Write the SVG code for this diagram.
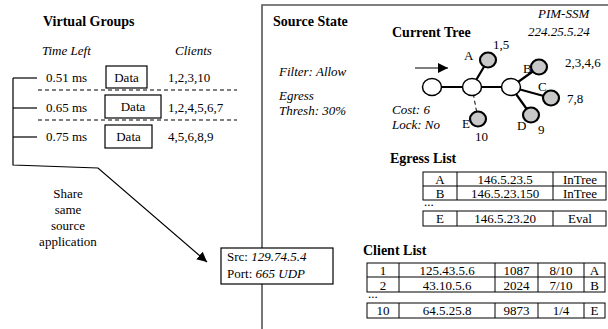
<svg xmlns="http://www.w3.org/2000/svg" width="608" height="329" viewBox="0 0 608 329" font-family="'Liberation Serif', Tinos, 'DejaVu Serif', serif">
  <style>
    text { font-family: 'Liberation Serif', Tinos, 'DejaVu Serif', serif; font-size: 13px; fill: #000; }
    .h { font-weight: bold; font-size: 14px; }
    .i { font-style: italic; }
    .m { text-anchor: middle; }
    .ln { stroke: #000; stroke-width: 1.2; fill: none; }
    .dash { stroke: #000; stroke-width: 1.2; stroke-dasharray: 4 3; fill: none; }
    .box { stroke: #000; stroke-width: 1.2; fill: #fff; }
    .cell { stroke: #000; stroke-width: 1; fill: none; }
    .edge { stroke: #000; stroke-width: 2.2; fill: none; }
    .hub { stroke: #000; stroke-width: 1.5; fill: #fff; }
    .leaf { stroke: #000; stroke-width: 2.2; fill: #c8c8c8; }
  </style>
  <defs>
    <marker id="ah" viewBox="0 0 10 10" refX="10" refY="5" markerWidth="10" markerHeight="10" markerUnits="userSpaceOnUse" orient="auto">
      <path d="M0,0 L10,5 L0,10 z" fill="#000"/>
    </marker>
  </defs>

  <rect width="608" height="329" fill="#fff"/>

  <!-- Virtual groups panel -->
  <g id="virtual-groups">
    <text class="h" x="43" y="26">Virtual Groups</text>
    <text class="i" x="42" y="55">Time Left</text>
    <text class="i" x="175" y="55">Clients</text>

    <text x="46" y="82">0.51 ms</text>
    <rect class="box" x="106" y="66" width="41" height="22"/>
    <text class="m" x="126.5" y="82">Data</text>
    <text x="168" y="82">1,2,3,10</text>

    <line class="dash" x1="38" y1="90" x2="237" y2="90"/>

    <text x="46" y="112">0.65 ms</text>
    <rect class="box" x="105" y="95" width="56" height="23"/>
    <text class="m" x="133" y="111">Data</text>
    <text x="168" y="112">1,2,4,5,6,7</text>

    <line class="dash" x1="38" y1="120" x2="237" y2="120"/>

    <text x="46" y="141">0.75 ms</text>
    <rect class="box" x="105" y="125" width="47" height="23"/>
    <text class="m" x="128.5" y="141">Data</text>
    <text x="168" y="141">4,5,6,8,9</text>

    <text class="m" x="68" y="198">Share</text>
    <text class="m" x="68" y="214">same</text>
    <text class="m" x="68" y="230">source</text>
    <text class="m" x="68" y="246">application</text>
  </g>

  <!-- Connectors -->
  <g id="connectors">
    <line class="ln" x1="13" y1="78" x2="37" y2="78"/>
    <line class="ln" x1="13" y1="108" x2="37" y2="108"/>
    <line class="ln" x1="13" y1="137" x2="37" y2="137"/>
    <polyline class="ln" points="13,78 13,165 98,168 207,262" marker-end="url(#ah)"/>
  </g>

  <!-- Source state panel -->
  <g id="source-state">
    <polyline points="262,329 262,5 608,5" fill="none" stroke="#555" stroke-width="1.6"/>
    <text class="h" x="273" y="26">Source State</text>
    <text class="h" x="392" y="37">Current Tree</text>
    <text class="i" x="538" y="18">PIM-SSM</text>
    <text class="i" x="528" y="36">224.25.5.24</text>
    <text class="i" x="279" y="76">Filter: Allow</text>
    <text class="i" x="279" y="100">Egress</text>
    <text class="i" x="279" y="115">Thresh: 30%</text>
    <text class="i" x="392" y="114">Cost: 6</text>
    <text class="i" x="392" y="129">Lock: No</text>
  </g>

  <!-- Source address box -->
  <g id="source-box">
    <rect class="box" x="221" y="248" width="112" height="36"/>
    <text x="227" y="261">Src: <tspan class="i">129.74.5.4</tspan></text>
    <text x="227" y="278">Port: <tspan class="i">665  UDP</tspan></text>
  </g>

  <!-- Current tree -->
  <g id="current-tree">
    <line x1="415" y1="68" x2="448" y2="68" stroke="#000" stroke-width="1.2" marker-end="url(#ah)"/>
    <line class="edge" x1="432" y1="87" x2="511" y2="87"/>
    <line class="edge" x1="472" y1="87" x2="488" y2="60"/>
    <line class="edge" x1="511" y1="87" x2="539" y2="67"/>
    <line class="edge" x1="511" y1="87" x2="551" y2="98"/>
    <line class="edge" x1="511" y1="87" x2="531" y2="115"/>
    <line x1="472" y1="87" x2="478" y2="119" stroke="#000" stroke-width="1" stroke-dasharray="4 3"/>
    <ellipse class="hub" cx="432" cy="87" rx="9.5" ry="8.5"/>
    <ellipse class="hub" cx="472" cy="87" rx="9.5" ry="8.5"/>
    <ellipse class="hub" cx="511" cy="87" rx="9.5" ry="8.5"/>
    <ellipse class="leaf" cx="488" cy="60" rx="8" ry="7.5"/>
    <ellipse class="leaf" cx="539" cy="67" rx="8" ry="7.5"/>
    <ellipse class="leaf" cx="551" cy="98" rx="8" ry="7.5"/>
    <ellipse class="leaf" cx="531" cy="115" rx="8" ry="7.5"/>
    <ellipse class="leaf" cx="478" cy="119" rx="8" ry="7.5" stroke-width="1.2"/>
    <text x="464" y="60">A</text>
    <text x="493" y="49">1,5</text>
    <text x="523" y="73">B</text>
    <text x="565" y="67">2,3,4,6</text>
    <text x="538" y="91">C</text>
    <text x="567" y="103">7,8</text>
    <text x="517" y="130">D</text>
    <text x="538" y="134">9</text>
    <text x="462" y="128">E</text>
    <text x="475" y="141">10</text>
  </g>

  <!-- Egress list -->
  <g id="egress-list">
    <text class="h" x="390" y="163">Egress List</text>
    <rect class="cell" x="423" y="172" width="183" height="28"/>
    <line class="cell" x1="423" y1="186" x2="606" y2="186"/>
    <line class="cell" x1="457" y1="172" x2="457" y2="200"/>
    <line class="cell" x1="553" y1="172" x2="553" y2="200"/>
    <text class="m" x="440" y="184">A</text>
    <text class="m" x="505" y="184">146.5.23.5</text>
    <text class="m" x="580" y="184">InTree</text>
    <text class="m" x="440" y="198">B</text>
    <text class="m" x="505" y="198">146.5.23.150</text>
    <text class="m" x="580" y="198">InTree</text>
    <text x="424" y="206" font-size="9">...</text>
    <rect class="cell" x="423" y="211" width="183" height="15"/>
    <line class="cell" x1="457" y1="211" x2="457" y2="226"/>
    <line class="cell" x1="553" y1="211" x2="553" y2="226"/>
    <text class="m" x="440" y="223">E</text>
    <text class="m" x="505" y="223">146.5.23.20</text>
    <text class="m" x="580" y="223">Eval</text>
  </g>

  <!-- Client list -->
  <g id="client-list">
    <text class="h" x="363" y="255">Client List</text>
    <rect class="cell" x="367" y="263" width="238" height="29"/>
    <line class="cell" x1="367" y1="277" x2="605" y2="277"/>
    <line class="cell" x1="399" y1="263" x2="399" y2="292"/>
    <line class="cell" x1="495" y1="263" x2="495" y2="292"/>
    <line class="cell" x1="538" y1="263" x2="538" y2="292"/>
    <line class="cell" x1="584" y1="263" x2="584" y2="292"/>
    <text class="m" x="383" y="275">1</text>
    <text class="m" x="447" y="275">125.43.5.6</text>
    <text class="m" x="516.5" y="275">1087</text>
    <text class="m" x="561" y="275">8/10</text>
    <text class="m" x="594.5" y="275">A</text>
    <text class="m" x="383" y="290">2</text>
    <text class="m" x="447" y="290">43.10.5.6</text>
    <text class="m" x="516.5" y="290">2024</text>
    <text class="m" x="561" y="290">7/10</text>
    <text class="m" x="594.5" y="290">B</text>
    <text x="368" y="298" font-size="9">...</text>
    <rect class="cell" x="367" y="303" width="238" height="15"/>
    <line class="cell" x1="399" y1="303" x2="399" y2="318"/>
    <line class="cell" x1="495" y1="303" x2="495" y2="318"/>
    <line class="cell" x1="538" y1="303" x2="538" y2="318"/>
    <line class="cell" x1="584" y1="303" x2="584" y2="318"/>
    <text class="m" x="383" y="315">10</text>
    <text class="m" x="447" y="315">64.5.25.8</text>
    <text class="m" x="516.5" y="315">9873</text>
    <text class="m" x="561" y="315">1/4</text>
    <text class="m" x="594.5" y="315">E</text>
  </g>
</svg>
